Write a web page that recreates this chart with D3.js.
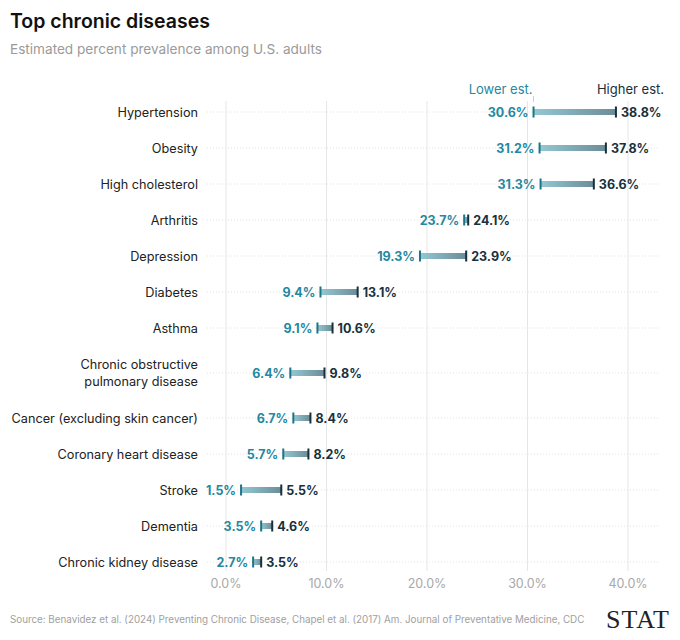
<!DOCTYPE html>
<html>
<head>
<meta charset="utf-8">
<script src="https://cdn.jsdelivr.net/npm/d3@7"></script>
<style>
  body { margin: 0; background: #fff; }
  text { font-family: Inter, "Noto Sans", sans-serif; }
</style>
</head>
<body>
<div id="chart"></div>
<script>
// rows, top to bottom ("\n" marks a line break in the label)
const diseases = [
  'Hypertension',
  'Obesity',
  'High cholesterol',
  'Arthritis',
  'Depression',
  'Diabetes',
  'Asthma',
  'Chronic obstructive\npulmonary disease',
  'Cancer (excluding skin cancer)',
  'Coronary heart disease',
  'Stroke',
  'Dementia',
  'Chronic kidney disease'
];
const lowerEst = [30.6, 31.2, 31.3, 23.7, 19.3, 9.4, 9.1, 6.4, 6.7, 5.7, 1.5, 3.5, 2.7];
const higherEst = [38.8, 37.8, 36.6, 24.1, 23.9, 13.1, 10.6, 9.8, 8.4, 8.2, 5.5, 4.6, 3.5];
const xTicks = [0, 10, 20, 30, 40];

const width = 680;
const height = 640;
const lowColor = '#2388a0';
const highColor = '#16313d';

const svg = d3.select('#chart')
  .append('svg')
  .attr('width', width)
  .attr('height', height);

// title block
svg.append('text')
  .attr('x', 10).attr('y', 28)
  .style('font-size', '19.5px').style('font-weight', 600)
  .attr('fill', '#111')
  .text('Top chronic diseases');

svg.append('text')
  .attr('x', 10).attr('y', 54)
  .style('font-size', '13.6px')
  .attr('fill', '#9a9a9a')
  .text('Estimated percent prevalence among U.S. adults');

// rows with two-line labels get a bit more room
const rows = diseases.map((d, i) => ({
  name: d,
  lines: d.split('\n'),
  lo: lowerEst[i],
  hi: higherEst[i]
}));
let acc = 0;
rows.forEach(r => {
  const w = 1 + 0.5 * (r.lines.length - 1);
  r.center = acc + w / 2;
  acc += w;
});

const x = d3.scaleLinear().domain([0, 40]).range([226, 628]);
const y = d3.scaleLinear().domain([0, acc]).range([94, 94 + acc * 36]);

const defs = svg.append('defs');
const grad = defs.append('linearGradient')
  .attr('id', 'barGrad')
  .attr('x1', '0%').attr('x2', '100%');
grad.append('stop').attr('offset', '0%').attr('stop-color', '#93c8d4');
grad.append('stop').attr('offset', '100%').attr('stop-color', '#6c8c97');

// vertical gridlines + axis labels
const xAxis = svg.append('g');
xAxis.selectAll('line')
  .data(xTicks)
  .enter()
  .append('line')
  .attr('x1', d => x(d)).attr('x2', d => x(d))
  .attr('y1', 101).attr('y2', 571)
  .attr('stroke', '#e6e6e6')
  .attr('stroke-width', 1);

xAxis.selectAll('text')
  .data(xTicks)
  .enter()
  .append('text')
  .attr('x', d => x(d))
  .attr('y', 588)
  .attr('text-anchor', 'middle')
  .style('font-size', '12.5px')
  .attr('fill', '#a8a8a8')
  .text(d => d3.format('.1f')(d) + '%');

// dotted row guides
svg.append('g')
  .selectAll('line')
  .data(rows)
  .enter()
  .append('line')
  .attr('x1', 207).attr('x2', 660)
  .attr('y1', d => y(d.center)).attr('y2', d => y(d.center))
  .attr('stroke', '#e2e2e2')
  .attr('stroke-width', 1)
  .attr('stroke-dasharray', '1,2');

// row labels
const labels = svg.append('g')
  .selectAll('text')
  .data(rows)
  .enter()
  .append('text')
  .attr('text-anchor', 'end')
  .style('font-size', '12.7px')
  .attr('fill', '#222');

labels.selectAll('tspan')
  .data(d => d.lines.map((t, i) => ({ t, i, n: d.lines.length, c: d.center })))
  .enter()
  .append('tspan')
  .attr('x', 198)
  .attr('y', d => y(d.c) + (d.i - (d.n - 1) / 2) * 17 + 4.5)
  .text(d => d.t);

// bars
const bars = svg.append('g')
  .selectAll('g')
  .data(rows)
  .enter()
  .append('g')
  .attr('transform', d => `translate(0,${y(d.center)})`);

bars.append('rect')
  .attr('x', d => x(d.lo))
  .attr('y', -3)
  .attr('width', d => x(d.hi) - x(d.lo))
  .attr('height', 6)
  .attr('fill', 'url(#barGrad)');

bars.append('rect')
  .attr('x', d => x(d.lo) - 1)
  .attr('y', -5.5)
  .attr('width', 2)
  .attr('height', 11)
  .attr('fill', '#1c7485');

bars.append('rect')
  .attr('x', d => x(d.hi) - 1)
  .attr('y', -5.5)
  .attr('width', 2)
  .attr('height', 11)
  .attr('fill', highColor);

bars.append('text')
  .attr('x', d => x(d.lo) - 5)
  .attr('y', 4.5)
  .attr('text-anchor', 'end')
  .style('font-size', '12.5px').style('font-weight', 700)
  .attr('fill', lowColor)
  .text(d => d.lo.toFixed(1) + '%');

bars.append('text')
  .attr('x', d => x(d.hi) + 5)
  .attr('y', 4.5)
  .style('font-size', '12.5px').style('font-weight', 700)
  .attr('fill', highColor)
  .text(d => d.hi.toFixed(1) + '%');

// series header above the first row
const first = rows[0];
svg.append('line')
  .attr('x1', x(first.lo)).attr('x2', x(first.lo))
  .attr('y1', 96).attr('y2', 102)
  .attr('stroke', '#cfcfcf');

svg.append('text')
  .attr('x', x(first.lo) - 1)
  .attr('y', 94)
  .attr('text-anchor', 'end')
  .style('font-size', '13px')
  .attr('fill', lowColor)
  .text('Lower est.');

svg.append('text')
  .attr('x', 664)
  .attr('y', 94)
  .attr('text-anchor', 'end')
  .style('font-size', '13px')
  .attr('fill', highColor)
  .text('Higher est.');

// footer
svg.append('text')
  .attr('x', 10).attr('y', 623)
  .style('font-size', '9.8px')
  .attr('fill', '#a0a0a0')
  .text('Source: Benavidez et al. (2024) Preventing Chronic Disease, Chapel et al. (2017) Am. Journal of Preventative Medicine, CDC');

svg.append('text')
  .attr('x', 670).attr('y', 628)
  .attr('text-anchor', 'end')
  .style('font-family', '"Liberation Serif", "DejaVu Serif", serif')
  .style('font-size', '26px')
  .attr('fill', '#222')
  .attr('letter-spacing', '1px')
  .text('STAT');
</script>
</body>
</html>
